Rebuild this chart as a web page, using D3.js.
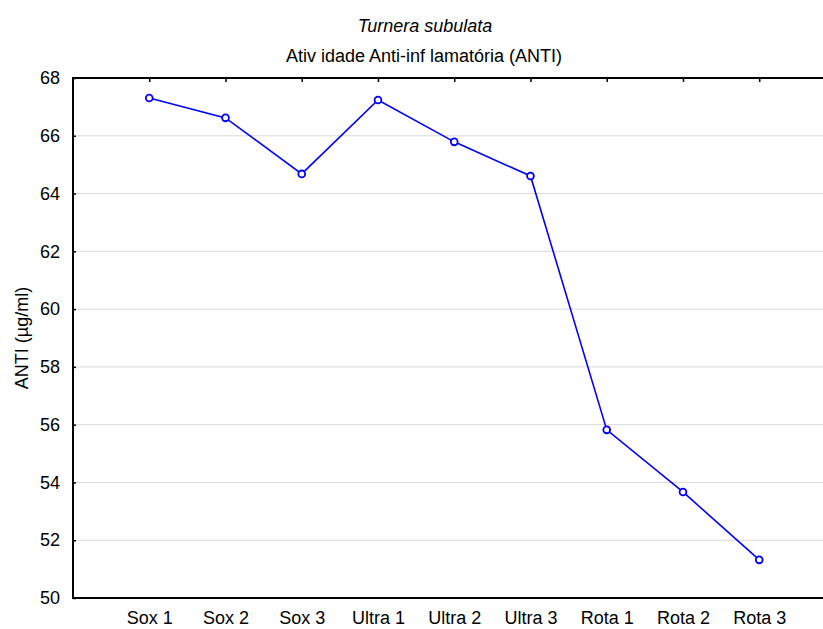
<!DOCTYPE html>
<html>
<head>
<meta charset="utf-8">
<script src="https://cdn.jsdelivr.net/npm/d3@7"></script>
<style>
  html, body { margin: 0; padding: 0; background: #fff; }
  svg { display: block; font-family: "Liberation Sans", Arial, sans-serif; }
</style>
</head>
<body>
<svg id="chart" width="823" height="629"></svg>
<script>
// Anti-inflammatory activity per extraction method
const categories = ["Sox 1", "Sox 2", "Sox 3", "Ultra 1", "Ultra 2", "Ultra 3", "Rota 1", "Rota 2", "Rota 3"];
const antiValues = [67.31, 66.62, 64.68, 67.24, 65.79, 64.61, 55.82, 53.67, 51.32];
const yTicks = [50, 52, 54, 56, 58, 60, 62, 64, 66, 68];
const titleText = "Turnera subulata";
const subtitleText = "Ativ idade Anti-inf lamatória (ANTI)";
const yLabel = "ANTI (µg/ml)";

const svg = d3.select("#chart");
const plotLeft = 73, plotTop = 78, plotBottom = 598;
const step = 76.25;
const plotRight = plotLeft + step * (categories.length + 1);
const fontSize = 18;

const x = d3.scaleLinear().domain([0, categories.length + 1]).range([plotLeft, plotRight]);
const y = d3.scaleLinear().domain([50, 68]).range([plotBottom, plotTop]);
const xPos = (d, i) => x(i + 1);

// horizontal grid lines
svg.append("g").selectAll("line")
  .data(yTicks.filter(t => t > 50 && t < 68))
  .join("line")
  .attr("x1", plotLeft).attr("x2", plotRight)
  .attr("y1", d => y(d)).attr("y2", d => y(d))
  .attr("stroke", "#d9d9d9").attr("stroke-width", 1);

// left axis with inward ticks
const yAxis = svg.append("g")
  .attr("transform", `translate(${plotLeft},0)`)
  .call(d3.axisLeft(y).tickValues(yTicks).tickFormat(d3.format("d")).tickSize(-3).tickPadding(13));
yAxis.select(".domain").remove();
yAxis.selectAll("line").attr("stroke", "#000").attr("stroke-width", 1.5);
yAxis.selectAll("text").attr("font-size", fontSize).attr("fill", "#000")
  .attr("font-family", "Liberation Sans, Arial, sans-serif");

// top axis ticks at each category
const xTop = svg.append("g")
  .attr("transform", `translate(0,${plotTop})`)
  .call(d3.axisTop(x).tickValues(d3.range(1, categories.length + 1)).tickFormat("").tickSize(-4));
xTop.select(".domain").remove();
xTop.selectAll("line").attr("stroke", "#000").attr("stroke-width", 1.5);

// bottom category labels
const xBottom = svg.append("g")
  .attr("transform", `translate(0,${plotBottom})`)
  .call(d3.axisBottom(x).tickValues(d3.range(1, categories.length + 1))
    .tickFormat(d => categories[d - 1]).tickSize(0).tickPadding(13));
xBottom.select(".domain").remove();
xBottom.selectAll("text").attr("font-size", fontSize).attr("fill", "#000")
  .attr("font-family", "Liberation Sans, Arial, sans-serif");

// plot frame
svg.append("path")
  .attr("d", `M${plotRight},${plotTop}H${plotLeft}V${plotBottom}H${plotRight}`)
  .attr("fill", "none").attr("stroke", "#000").attr("stroke-width", 2);

// data line and markers
const line = d3.line().x(xPos).y(d => y(d));
svg.append("path")
  .datum(antiValues)
  .attr("d", line)
  .attr("fill", "none").attr("stroke", "#0000ff").attr("stroke-width", 1.6);

svg.append("g").selectAll("circle")
  .data(antiValues)
  .join("circle")
  .attr("cx", xPos).attr("cy", d => y(d)).attr("r", 3.4)
  .attr("fill", "#fff").attr("stroke", "#0000ff").attr("stroke-width", 1.8);

// titles
svg.append("text").attr("x", 425).attr("y", 32).attr("text-anchor", "middle")
  .attr("font-size", fontSize).attr("font-style", "italic").text(titleText);
svg.append("text").attr("x", 424).attr("y", 62).attr("text-anchor", "middle")
  .attr("font-size", fontSize).text(subtitleText);

// y axis title
svg.append("text")
  .attr("transform", `translate(28,${(plotTop + plotBottom) / 2}) rotate(-90)`)
  .attr("text-anchor", "middle").attr("font-size", fontSize).text(yLabel);
</script>
</body>
</html>
